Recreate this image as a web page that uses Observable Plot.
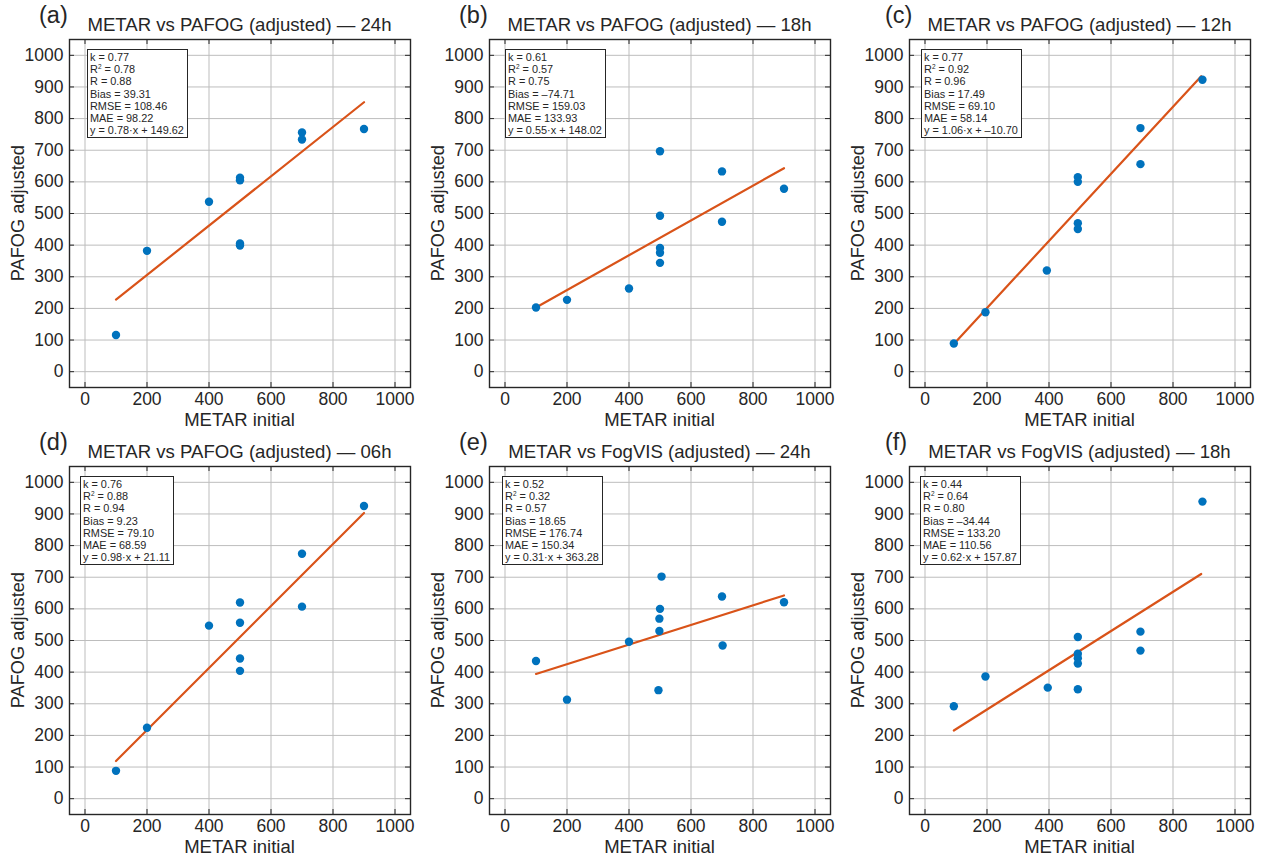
<!DOCTYPE html>
<html>
<head>
<meta charset="utf-8">
<script src="https://cdn.jsdelivr.net/npm/d3@7"></script>
<script src="https://cdn.jsdelivr.net/npm/@observablehq/plot@0.6"></script>
<style>
  html, body { margin: 0; padding: 0; background: #ffffff; }
  #root { position: relative; width: 1267px; height: 861px; font-family: "Liberation Sans", Arial, Helvetica, sans-serif; color: #262626; }
  .panel { position: absolute; width: 420px; height: 430px; }
  .panel svg { position: absolute; left: 0; top: 0; }
  .plabel { position: absolute; font-size: 23.5px; line-height: 1; top: 4px; }
  .ptitle { position: absolute; font-size: 18.6px; line-height: 1; top: 16px; width: 341px; left: 69px; text-align: center; white-space: nowrap; }
  .ylab { position: absolute; font-size: 18.2px; line-height: 1; white-space: nowrap; transform-origin: center center; }
  .xlab { position: absolute; font-size: 18.5px; line-height: 1; top: 411px; width: 341px; left: 69px; text-align: center; white-space: nowrap; }
  .stats { position: absolute; border: 1.3px solid #262626; background: #fff; font-size: 10.9px; line-height: 12.2px; padding: 1px 3px 1px 2px; white-space: nowrap; }
  .stats sup { font-size: 6.5px; line-height: 0; vertical-align: 4px; }
</style>
</head>
<body>
<div id="root"></div>
<script>
// ---------- data ----------
const panelLabels = ["(a)", "(b)", "(c)", "(d)", "(e)", "(f)"];
const panelTitles = [
  "METAR vs PAFOG (adjusted) — 24h",
  "METAR vs PAFOG (adjusted) — 18h",
  "METAR vs PAFOG (adjusted) — 12h",
  "METAR vs PAFOG (adjusted) — 06h",
  "METAR vs FogVIS (adjusted) — 24h",
  "METAR vs FogVIS (adjusted) — 18h"
];
const xLabel = "METAR initial";
const yLabel = "PAFOG adjusted";
const xTicks = [0, 200, 400, 600, 800, 1000];
const yTicks = [0, 100, 200, 300, 400, 500, 600, 700, 800, 900, 1000];

const xA = [100, 200, 400, 500, 500, 500, 500, 700, 700, 900];
const yA = [116, 382, 537, 613, 605, 405, 399, 756, 734, 767];
const xB = [100, 200, 400, 500, 500, 500, 500, 500, 700, 700, 900];
const yB = [203, 227, 263, 697, 493, 391, 376, 344, 633, 474, 578];
const xC = [93, 195, 393, 493, 493, 493, 493, 695, 695, 895];
const yC = [89, 188, 320, 615, 600, 469, 451, 770, 656, 923];
const xD = [100, 200, 400, 500, 500, 500, 500, 700, 700, 900];
const yD = [88, 224, 547, 620, 556, 443, 404, 774, 607, 925];
const xE = [100, 200, 400, 505, 500, 498, 498, 495, 700, 702, 900];
const yE = [435, 313, 496, 702, 600, 569, 530, 343, 639, 484, 621];
const xF = [93, 195, 396, 493, 493, 493, 493, 493, 695, 695, 895];
const yF = [292, 386, 351, 511, 458, 444, 427, 346, 528, 468, 939];

const kVals    = ["0.77", "0.61", "0.77", "0.76", "0.52", "0.44"];
const r2Vals   = ["0.78", "0.57", "0.92", "0.88", "0.32", "0.64"];
const rVals    = ["0.88", "0.75", "0.96", "0.94", "0.57", "0.80"];
const biasVals = ["39.31", "–74.71", "17.49", "9.23", "18.65", "–34.44"];
const rmseVals = ["108.46", "159.03", "69.10", "79.10", "176.74", "133.20"];
const maeVals  = ["98.22", "133.93", "58.14", "68.59", "150.34", "110.56"];
const slopes     = [0.78, 0.55, 1.06, 0.98, 0.31, 0.62];
const intercepts = [149.62, 148.02, -10.70, 21.11, 363.28, 157.87];
const interceptText = ["149.62", "148.02", "–10.70", "21.11", "363.28", "157.87"];
const fitX = [[100, 900], [100, 900], [93, 891], [100, 900], [100, 900], [93, 891]];

const seriesX = [xA, xB, xC, xD, xE, xF];
const seriesY = [yA, yB, yC, yD, yE, yF];

// ---------- layout / style ----------
const W = 420, H = 430, mL = 69, mR = 10, mT = 39, mB = 43;
const fw = W - mL - mR, fh = H - mT - mB;
const labelLeft = [39, 39, 45, 39, 39, 45];
const statsLeft = [87, 85, 81, 80, 82, 80];
const BLUE = "#0072BD", ORANGE = "#D95319", INK = "#262626", GRID = "#bdbdbd";
const FONT = "Liberation Sans, Arial, Helvetica, sans-serif";

const root = document.getElementById("root");

for (let i = 0; i < 6; i++) {
  const col = i % 3, row = Math.floor(i / 3);
  const panel = document.createElement("div");
  panel.className = "panel";
  panel.style.left = (col * 420) + "px";
  panel.style.top = (row * 427) + "px";
  root.appendChild(panel);

  const pts = seriesX[i].map((x, j) => ({x, y: seriesY[i][j]}));
  const fit = fitX[i].map(x => ({x, y: slopes[i] * x + intercepts[i]}));

  const chart = Plot.plot({
    width: W, height: H,
    marginLeft: mL, marginRight: mR, marginTop: mT, marginBottom: mB,
    style: {fontFamily: FONT, color: INK, background: "transparent", overflow: "visible"},
    x: {domain: [-50, 1050]},
    y: {domain: [-50, 1050]},
    marks: [
      Plot.gridX(xTicks, {stroke: GRID, strokeOpacity: 1, strokeWidth: 1}),
      Plot.gridY(yTicks, {stroke: GRID, strokeOpacity: 1, strokeWidth: 1}),
      Plot.tickX(xTicks, {x: d => d, stroke: INK, strokeWidth: 1, insetTop: fh - 5}),
      Plot.tickX(xTicks, {x: d => d, stroke: INK, strokeWidth: 1, insetBottom: fh - 5}),
      Plot.tickY(yTicks, {y: d => d, stroke: INK, strokeWidth: 1, insetRight: fw - 5}),
      Plot.tickY(yTicks, {y: d => d, stroke: INK, strokeWidth: 1, insetLeft: fw - 5}),
      Plot.axisX(xTicks, {anchor: "bottom", tickSize: 0, tickPadding: 5, fontSize: 17.5, label: null, tickFormat: d => String(d)}),
      Plot.axisY(yTicks, {anchor: "left", tickSize: 0, tickPadding: 6, fontSize: 17.5, label: null, tickFormat: d => String(d)}),
      Plot.frame({stroke: INK, strokeWidth: 1.4}),
      Plot.line(fit, {x: "x", y: "y", stroke: ORANGE, strokeWidth: 2.2}),
      Plot.dot(pts, {x: "x", y: "y", r: 4.2, fill: BLUE, stroke: "none"})
    ]
  });
  panel.appendChild(chart);

  const lab = document.createElement("div");
  lab.className = "plabel";
  lab.style.left = labelLeft[i] + "px";
  lab.textContent = panelLabels[i];
  panel.appendChild(lab);

  const title = document.createElement("div");
  title.className = "ptitle";
  title.textContent = panelTitles[i];
  panel.appendChild(title);

  const yl = document.createElement("div");
  yl.className = "ylab";
  yl.textContent = yLabel;
  panel.appendChild(yl);
  const ylw = yl.offsetWidth, ylh = yl.offsetHeight;
  yl.style.left = (18 - ylw / 2) + "px";
  yl.style.top = (mT + fh / 2 - ylh / 2) + "px";
  yl.style.transform = "rotate(-90deg)";

  const xl = document.createElement("div");
  xl.className = "xlab";
  xl.textContent = xLabel;
  panel.appendChild(xl);

  const st = document.createElement("div");
  st.className = "stats";
  st.style.left = statsLeft[i] + "px";
  st.style.top = (mT + 10) + "px";
  st.innerHTML =
    "k = " + kVals[i] + "<br>" +
    "R<sup>2</sup> = " + r2Vals[i] + "<br>" +
    "R = " + rVals[i] + "<br>" +
    "Bias = " + biasVals[i] + "<br>" +
    "RMSE = " + rmseVals[i] + "<br>" +
    "MAE = " + maeVals[i] + "<br>" +
    "y = " + slopes[i].toFixed(2) + "·x + " + interceptText[i];
  panel.appendChild(st);
}
</script>
</body>
</html>
